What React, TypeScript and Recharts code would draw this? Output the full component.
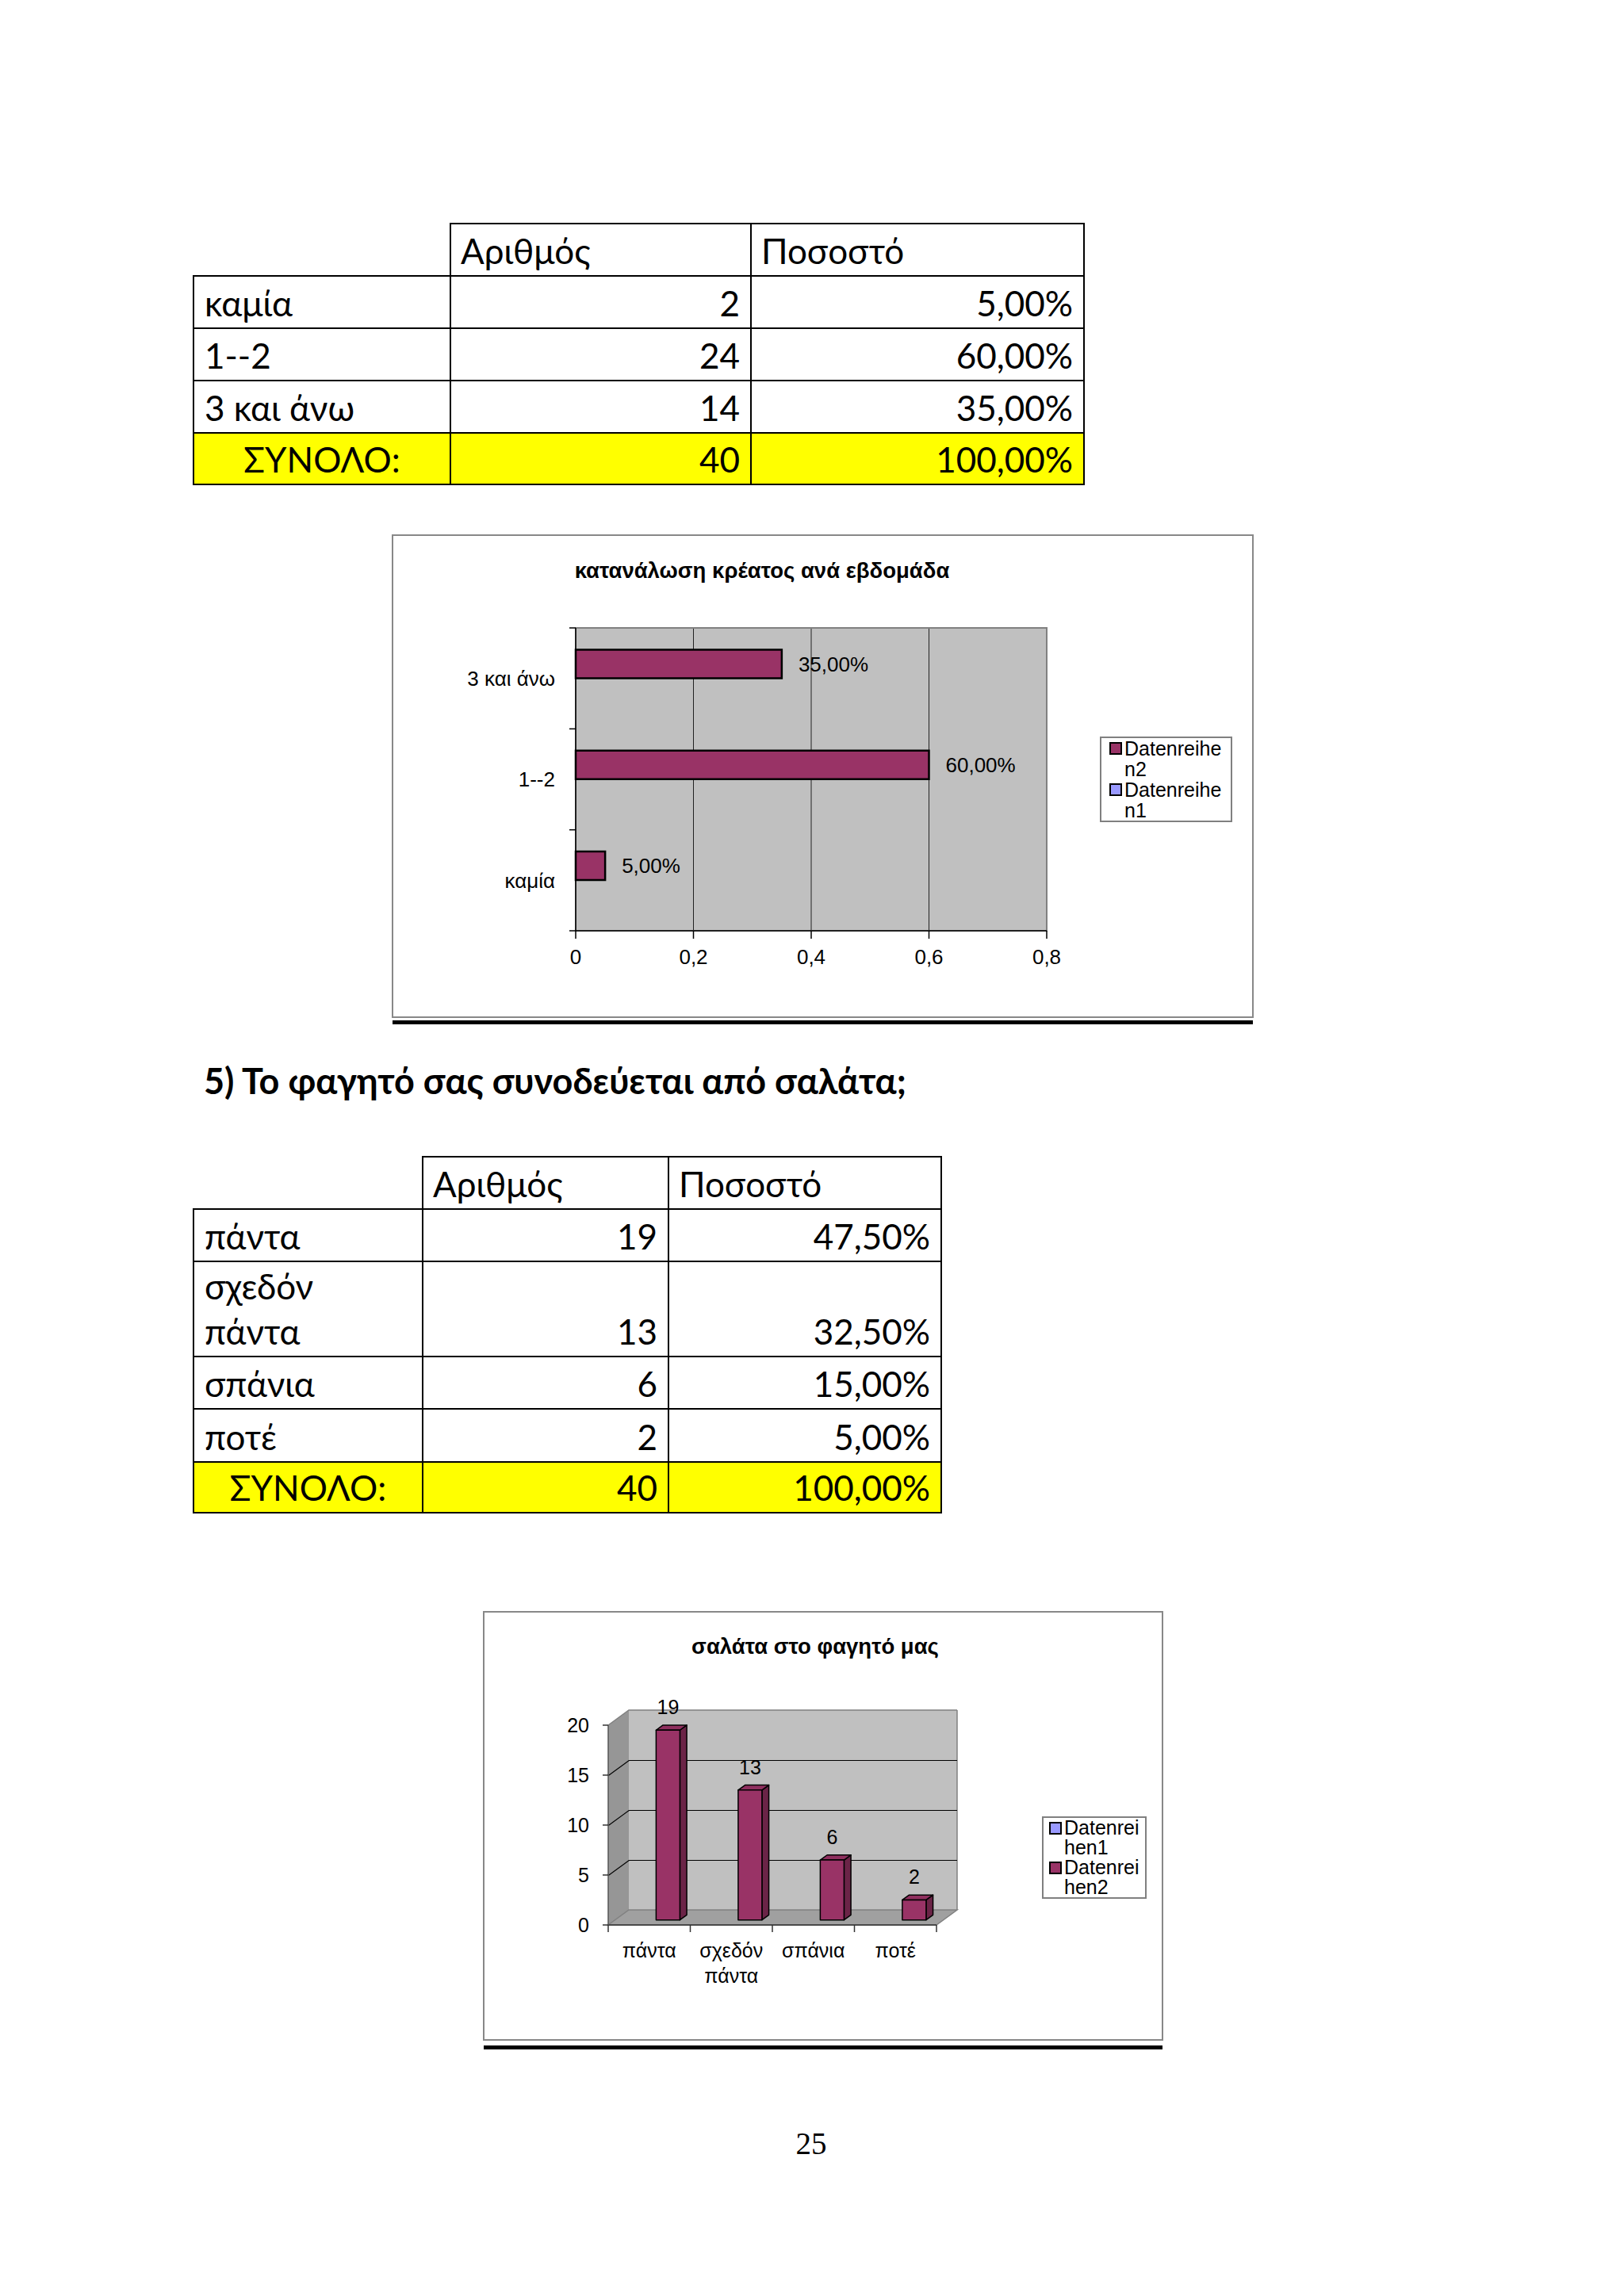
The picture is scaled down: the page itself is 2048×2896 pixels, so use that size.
import React from 'react';
import {
  BarChart, Bar, XAxis, YAxis, CartesianGrid, LabelList, Legend, ReferenceArea, Text
} from 'recharts';

// ---- data ----
const MEAT_TABLE_LABELS = ['καμία', '1--2', '3 και άνω'];
const MEAT_TABLE_COUNTS = [2, 24, 14];
const MEAT_TABLE_PCTS = ['5,00%', '60,00%', '35,00%'];

const MEAT_CATEGORIES = ['3 και άνω', '1--2', 'καμία'];
const MEAT_SHARE = [0.35, 0.6, 0.05];
const MEAT_TICKS = [0, 0.2, 0.4, 0.6, 0.8];

const SALAD_TABLE_LABELS = [['πάντα'], ['σχεδόν', 'πάντα'], ['σπάνια'], ['ποτέ']];
const SALAD_TABLE_COUNTS = [19, 13, 6, 2];
const SALAD_TABLE_PCTS = ['47,50%', '32,50%', '15,00%', '5,00%'];

const SALAD_CATEGORIES = ['πάντα', 'σχεδόν πάντα', 'σπάνια', 'ποτέ'];
const SALAD_COUNTS = [19, 13, 6, 2];
const SALAD_TICKS = [0, 5, 10, 15, 20];

const TOTAL_LABEL = 'ΣΥΝΟΛΟ:';
const TOTAL_COUNT = 40;
const TOTAL_PCT = '100,00%';

const meatData = MEAT_CATEGORIES.map((name, i) => ({ name, n2: MEAT_SHARE[i], n1: null }));
const saladData = SALAD_CATEGORIES.map((name, i) => ({ name, n1: null, n2: SALAD_COUNTS[i] }));

const FONT = "'Liberation Sans', Arial, sans-serif";
const TABLE_FONT = "Lato, 'Open Sans', sans-serif";
const PLUM = '#993366';
const LILAC = '#9999FF';

// chart 1 geometry
const CH1 = { left: 495, top: 675, w: 1085, h: 608 };
const PLOT1_H = 382;
// chart 2 geometry
const CH2 = { left: 610, top: 2033, w: 856, h: 540 };
const PLOT2_W = 414;
const DX = 26;
const DY = -19;

// ---- tables ----
type TableProps = {
  cols: number[];
  edges: number[];
  labels: string[][];
  counts: number[];
  pcts: string[];
};

function DataTable({ cols, edges, labels, counts, pcts }: TableProps) {
  const fs = 44;
  const out: React.ReactNode[] = [];
  for (let c = 1; c < 3; c++) {
    out.push(
      <rect key={`h${c}`} x={cols[c]} y={edges[0]} width={cols[c + 1] - cols[c]}
        height={edges[1] - edges[0]} fill="#fff" stroke="#000" strokeWidth={2} />
    );
  }
  out.push(<text key="ht1" x={cols[1] + 13} y={edges[1] - 15} fontSize={fs}>Αριθμός</text>);
  out.push(<text key="ht2" x={cols[2] + 13} y={edges[1] - 15} fontSize={fs}>Ποσοστό</text>);

  const rows = labels.map((l, i) => ({ lines: l, count: String(counts[i]), pct: pcts[i], total: false }));
  rows.push({ lines: [TOTAL_LABEL], count: String(TOTAL_COUNT), pct: TOTAL_PCT, total: true });

  rows.forEach((r, i) => {
    const top = edges[i + 1];
    const bottom = edges[i + 2];
    for (let c = 0; c < 3; c++) {
      out.push(
        <rect key={`c${i}-${c}`} x={cols[c]} y={top} width={cols[c + 1] - cols[c]} height={bottom - top}
          fill={r.total ? '#FFFF00' : '#fff'} stroke="#000" strokeWidth={2} />
      );
    }
    const base = bottom - 15;
    if (r.total) {
      out.push(<text key={`l${i}`} x={(cols[0] + cols[1]) / 2} y={base} fontSize={fs} textAnchor="middle">{r.lines[0]}</text>);
    } else {
      r.lines.forEach((line, k) => {
        out.push(
          <text key={`l${i}-${k}`} x={cols[0] + 14} y={base - (r.lines.length - 1 - k) * 57} fontSize={fs}>{line}</text>
        );
      });
    }
    out.push(<text key={`n${i}`} x={cols[2] - 14} y={base} fontSize={fs} textAnchor="end">{r.count}</text>);
    out.push(<text key={`p${i}`} x={cols[3] - 14} y={base} fontSize={fs} textAnchor="end">{r.pct}</text>);
  });
  return <g fontFamily={TABLE_FONT} fill="#000">{out}</g>;
}

// ---- chart helpers ----
const fmtComma = (v: number) => String(v).replace('.', ',');
const fmtPct = (v: number) => (v * 100).toFixed(2).replace('.', ',') + '%';

const makeLegend = (textWidth: number, lineHeight: number, padLeft: number, reverse: boolean) => (props: any) => {
  const payload = [...(props.payload || [])];
  if (reverse) payload.reverse();
  return (
    <div style={{
      border: '2px solid #808080', background: '#fff', boxSizing: 'border-box',
      padding: `0 2px 0 ${padLeft}px`, fontFamily: FONT, fontSize: 25,
      lineHeight: `${lineHeight}px`, color: '#000'
    }}>
      {payload.map((entry: any) => (
        <div key={entry.value} style={{ display: 'flex', alignItems: 'flex-start' }}>
          <span style={{
            width: 16, height: 16, border: '2px solid #000', background: entry.color,
            boxSizing: 'border-box', flex: 'none', marginTop: (lineHeight - 16) / 2, marginRight: 3
          }} />
          <span style={{ width: textWidth, wordBreak: 'break-all' }}>{entry.value}</span>
        </div>
      ))}
    </div>
  );
};

const MeatTick = (props: any) => {
  const { x, y, payload, index } = props;
  const band = PLOT1_H / MEAT_CATEGORIES.length;
  const axisX = x + 26;
  return (
    <g>
      <line x1={axisX - 8} x2={axisX} y1={y - band / 2} y2={y - band / 2} stroke="#000" strokeWidth={1.5} />
      {index === MEAT_CATEGORIES.length - 1 && (
        <line x1={axisX - 8} x2={axisX} y1={y + band / 2} y2={y + band / 2} stroke="#000" strokeWidth={1.5} />
      )}
      <Text x={x} y={y} textAnchor="end" verticalAnchor="middle" fontSize={26} fontFamily={FONT} fill="#000">
        {payload.value}
      </Text>
    </g>
  );
};

const SaladTick = (props: any) => {
  const { x, y, payload, index } = props;
  const band = PLOT2_W / SALAD_CATEGORIES.length;
  const axisY = y - 28;
  const words = String(payload.value).split(' ');
  return (
    <g>
      <line x1={x - band / 2} x2={x - band / 2} y1={axisY} y2={axisY + 9} stroke="#333" strokeWidth={1.5} />
      {index === SALAD_CATEGORIES.length - 1 && (
        <line x1={x + band / 2} x2={x + band / 2} y1={axisY} y2={axisY + 9} stroke="#333" strokeWidth={1.5} />
      )}
      <text x={x} y={y + 13} textAnchor="middle" fontSize={25} fontFamily={FONT} fill="#000">
        {words.map((w, k) => (
          <tspan key={k} x={x} dy={k === 0 ? 0 : 32}>{w}</tspan>
        ))}
      </text>
    </g>
  );
};

// one horizontal slice of the 3D walls (back wall, left wall, floor) between two ticks
const wallSlice = (lo: number, hi: number) => (props: any) => {
  const { x, y, width, height } = props;
  const b = y + height;
  const isTop = hi === SALAD_TICKS[SALAD_TICKS.length - 1];
  return (
    <g>
      <rect x={x + DX} y={y + DY} width={width} height={height} fill="#C0C0C0" />
      <polygon points={`${x},${b} ${x},${y} ${x + DX},${y + DY} ${x + DX},${b + DY}`} fill="#969696" />
      {lo === 0 && (
        <polygon points={`${x},${b} ${x + width},${b} ${x + width + DX},${b + DY} ${x + DX},${b + DY}`}
          fill="#A0A0A0" stroke="#808080" strokeWidth={1.5} />
      )}
      <line x1={x + width + DX} x2={x + width + DX} y1={y + DY} y2={b + DY} stroke="#808080" strokeWidth={1.5} />
      <polyline points={`${x},${y} ${x + DX},${y + DY} ${x + width + DX},${y + DY}`}
        fill="none" stroke={isTop ? '#808080' : '#000'} strokeWidth={isTop ? 1.5 : 2.2} />
    </g>
  );
};

const OX = DX / 3;
const OY = DY / 3;

const Bar3D = (props: any) => {
  const { x, y, width, height } = props;
  if (!height || height <= 0) return null;
  const fx = x + OX;
  const fy = y + OY;
  return (
    <g stroke="#000" strokeWidth={1.5} strokeLinejoin="round">
      <polygon points={`${fx + width},${fy} ${fx + width + OX},${fy + OY} ${fx + width + OX},${fy + height + OY} ${fx + width},${fy + height}`}
        fill="#6B2447" />
      <polygon points={`${fx},${fy} ${fx + width},${fy} ${fx + width + OX},${fy + OY} ${fx + OX},${fy + OY}`}
        fill="#8E2F5E" />
      <rect x={fx} y={fy} width={width} height={height} fill={PLUM} />
    </g>
  );
};

const saladLabel = (p: any) => {
  const vb = p.viewBox || {};
  const x = p.x ?? vb.x;
  const y = p.y ?? vb.y;
  const w = p.width ?? vb.width;
  if (p.value == null || x == null) return null;
  return (
    <text x={x + w / 2 + OX} y={y + 2 * OY - 14} textAnchor="middle" fontSize={25} fontFamily={FONT} fill="#000">
      {p.value}
    </text>
  );
};

function MeatChart() {
  return (
    <BarChart width={CH1.w} height={CH1.h} data={meatData} layout="vertical"
      margin={{ top: 117, right: 260, bottom: 69, left: 131 }}
      barCategoryGap="21.5%" barGap={0}>
      <CartesianGrid horizontal={false} vertical stroke="#222" strokeWidth={1} fill="#C0C0C0" fillOpacity={1} />
      <ReferenceArea x1={0} x2={0.8} fill="none" stroke="#808080" strokeWidth={2} ifOverflow="visible" />
      <XAxis type="number" domain={[0, 0.8]} ticks={MEAT_TICKS} tickFormatter={fmtComma}
        height={40} tickSize={10} tickMargin={14} interval={0}
        axisLine={{ stroke: '#000', strokeWidth: 1.5 }} tickLine={{ stroke: '#000', strokeWidth: 1.5 }}
        tick={{ fontSize: 26, fontFamily: FONT, fill: '#000' }} />
      <YAxis type="category" dataKey="name" width={100} tickLine={false} tickSize={0} tickMargin={26}
        axisLine={{ stroke: '#000', strokeWidth: 1.5 }} interval={0} tick={(p: any) => <MeatTick {...p} />} />
      <Legend layout="vertical" align="center" verticalAlign="middle"
        wrapperStyle={{ left: 892, top: 254, width: 167 }}
        content={makeLegend(129, 26, 10, true)} />
      <Bar dataKey="n2" name="Datenreihen2" fill={PLUM} stroke="#000" strokeWidth={2.5} isAnimationActive={false}>
        <LabelList dataKey="n2" position="right" offset={21} formatter={(v: any) => fmtPct(Number(v))}
          style={{ fontSize: 26, fontFamily: FONT, fill: '#000' }} />
      </Bar>
      <Bar dataKey="n1" name="Datenreihen1" fill={LILAC} stroke="#000" strokeWidth={2.5} isAnimationActive={false} />
    </BarChart>
  );
}

function SaladChart() {
  const bands = SALAD_TICKS.slice(0, -1).map((lo, i) => [lo, SALAD_TICKS[i + 1]]);
  return (
    <BarChart width={CH2.w} height={CH2.h} data={saladData}
      margin={{ top: 143, right: 285, bottom: 85, left: 97 }}
      barCategoryGap="21%" barGap={0}>
      {bands.map(([lo, hi]) => (
        <ReferenceArea key={lo} y1={lo} y2={hi} ifOverflow="visible" shape={wallSlice(lo, hi)} />
      ))}
      <XAxis dataKey="name" height={60} tickLine={false} tickSize={0} tickMargin={28} interval={0}
        axisLine={{ stroke: '#333', strokeWidth: 1.5 }} tick={(p: any) => <SaladTick {...p} />} />
      <YAxis domain={[0, 20]} ticks={SALAD_TICKS} width={60} tickSize={7} tickMargin={17} interval={0}
        axisLine={{ stroke: '#555', strokeWidth: 1.5 }} tickLine={{ stroke: '#333', strokeWidth: 1.5 }}
        tick={{ fontSize: 25, fontFamily: FONT, fill: '#000' }} />
      <Legend layout="vertical" align="center" verticalAlign="middle"
        wrapperStyle={{ left: 704, top: 258, width: 132 }}
        content={makeLegend(100, 25, 7, false)} />
      <Bar dataKey="n1" name="Datenreihen1" fill={LILAC} isAnimationActive={false} />
      <Bar dataKey="n2" name="Datenreihen2" fill={PLUM} shape={(p: any) => <Bar3D {...p} />} isAnimationActive={false}>
        <LabelList dataKey="n2" content={saladLabel} />
      </Bar>
    </BarChart>
  );
}

export default function App() {
  return (
    <div style={{ position: 'absolute', left: 0, top: 0, width: 2048, height: 2896, background: '#fff', overflow: 'hidden' }}>
      <svg width={2048} height={2896} style={{ position: 'absolute', left: 0, top: 0 }}>
        <DataTable cols={[244, 568, 947, 1367]} edges={[282, 348, 414, 480, 546, 611]}
          labels={MEAT_TABLE_LABELS.map((l) => [l])} counts={MEAT_TABLE_COUNTS} pcts={MEAT_TABLE_PCTS} />

        <rect x={CH1.left} y={CH1.top} width={CH1.w} height={CH1.h} fill="#fff" stroke="#888" strokeWidth={2} />
        <rect x={CH1.left} y={1287} width={CH1.w} height={5} fill="#000" />
        <text x={961} y={729} textAnchor="middle" fontFamily={FONT} fontWeight="bold" fontSize={27.5}>
          κατανάλωση κρέατος ανά εβδομάδα
        </text>

        <text x={257} y={1380} fontFamily={TABLE_FONT} fontWeight="bold" fontSize={45}>
          5) Το φαγητό σας συνοδεύεται από σαλάτα;
        </text>

        <DataTable cols={[244, 533, 843, 1187]} edges={[1459, 1525, 1591, 1711, 1777, 1844, 1908]}
          labels={SALAD_TABLE_LABELS} counts={SALAD_TABLE_COUNTS} pcts={SALAD_TABLE_PCTS} />

        <rect x={CH2.left} y={CH2.top} width={CH2.w} height={CH2.h} fill="#fff" stroke="#888" strokeWidth={2} />
        <rect x={CH2.left} y={2580} width={CH2.w} height={5} fill="#000" />
        <text x={1028} y={2086} textAnchor="middle" fontFamily={FONT} fontWeight="bold" fontSize={27.5}>
          σαλάτα στο φαγητό μας
        </text>

        <text x={1023} y={2717} textAnchor="middle" fontFamily="'Liberation Serif', serif" fontSize={39}>25</text>
      </svg>
      <div style={{ position: 'absolute', left: CH1.left, top: CH1.top }}>
        <MeatChart />
      </div>
      <div style={{ position: 'absolute', left: CH2.left, top: CH2.top }}>
        <SaladChart />
      </div>
    </div>
  );
}
